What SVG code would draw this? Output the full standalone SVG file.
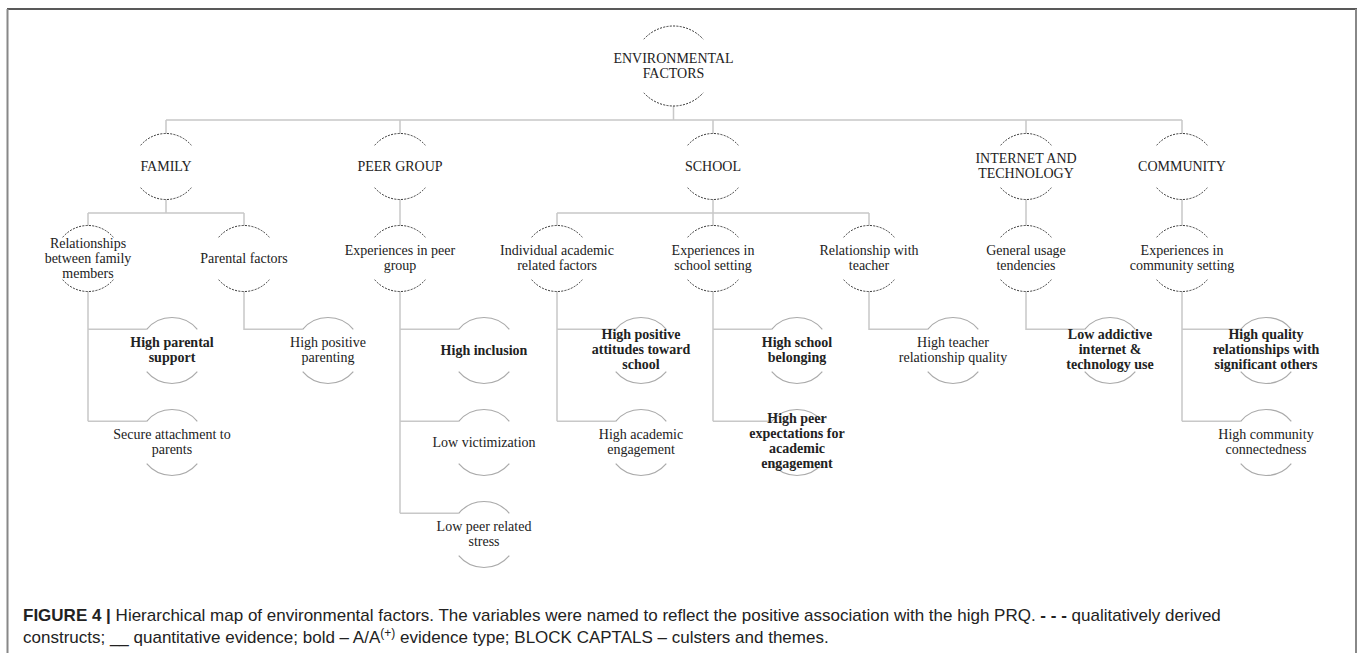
<svg xmlns="http://www.w3.org/2000/svg" xmlns:xlink="http://www.w3.org/1999/xlink" width="1360" height="653" viewBox="0 0 1360 653">
<style>
.t{font-family:"Liberation Serif","Times New Roman",serif;font-size:14px;fill:#222;text-anchor:middle}
.b{font-weight:bold}
.dash{fill:none;stroke:#333;stroke-width:1;stroke-dasharray:2 1.3}
.solid{fill:none;stroke:#aaa;stroke-width:1.2}
.con{fill:none;stroke:#c8c8c8;stroke-width:1.5}
.cap{font-family:"Liberation Sans",Arial,sans-serif;font-size:17px;fill:#222}
</style>
<defs>
<path id="arcR" d="M-29.7,-26.8 A40,40 0 0 1 29.7,-26.8 M-29.7,26.8 A40,40 0 0 0 29.7,26.8"/>
<path id="arc" d="M-25.3,-21.2 A33,33 0 0 1 25.3,-21.2 M-25.3,21.2 A33,33 0 0 0 25.3,21.2"/>
</defs>
<rect width="1360" height="653" fill="#fff"/>
<g id="frame">
<line x1="7" y1="9" x2="1357" y2="9" stroke="#222" stroke-width="1.5"/>
<line x1="7.5" y1="9" x2="7.5" y2="653" stroke="#888" stroke-width="2"/>
<line x1="1356" y1="9" x2="1356" y2="653" stroke="#888" stroke-width="2"/>
</g>
<g id="connectors" class="con">
<path d="M673.5,106 V120 M166,120 H1182 M166,120 V133.5 M400,120 V133.5 M713,120 V133.5 M1026,120 V133.5 M1182,120 V133.5"/>
<path d="M166,199.5 V213 M88,213 H244 M88,213 V225.5 M244,213 V225.5"/>
<path d="M400,199.5 V225.5"/>
<path d="M713,199.5 V225.5 M557,213 H869 M557,213 V225.5 M869,213 V225.5"/>
<path d="M1026,199.5 V225.5 M1182,199.5 V225.5"/>
<path d="M88,291.5 V421.3 M88,329.3 H146.7 M88,421.3 H146.7"/>
<path d="M244,291.5 V329.3 H302.7"/>
<path d="M400,291.5 V513.3 M400,329.3 H458.7 M400,421.3 H458.7 M400,513.3 H458.7"/>
<path d="M557,291.5 V421.3 M557,329.3 H615.7 M557,421.3 H615.7"/>
<path d="M713,291.5 V421.3 M713,329.3 H771.7 M713,421.3 H771.7"/>
<path d="M869,291.5 V329.3 H927.7"/>
<path d="M1026,291.5 V329.3 H1084.7"/>
<path d="M1182,291.5 V421.3 M1182,329.3 H1240.7 M1182,421.3 H1240.7"/>
</g>
<g id="root"><use href="#arcR" x="673.5" y="66" class="dash"/><text class="t" x="673.5" y="63">ENVIRONMENTAL</text><text class="t" x="673.5" y="78">FACTORS</text></g>
<g id="family"><use href="#arc" x="166" y="166.5" class="dash"/><text class="t" x="166" y="171">FAMILY</text></g>
<g id="peer-group"><use href="#arc" x="400" y="166.5" class="dash"/><text class="t" x="400" y="171">PEER GROUP</text></g>
<g id="school"><use href="#arc" x="713" y="166.5" class="dash"/><text class="t" x="713" y="171">SCHOOL</text></g>
<g id="internet"><use href="#arc" x="1026" y="166.5" class="dash"/><text class="t" x="1026" y="163">INTERNET AND</text><text class="t" x="1026" y="178">TECHNOLOGY</text></g>
<g id="community"><use href="#arc" x="1182" y="166.5" class="dash"/><text class="t" x="1182" y="171">COMMUNITY</text></g>
<g id="relationships-family"><use href="#arc" x="88" y="258.5" class="dash"/><text class="t" x="88" y="248">Relationships</text><text class="t" x="88" y="263">between family</text><text class="t" x="88" y="278">members</text></g>
<g id="parental-factors"><use href="#arc" x="244" y="258.5" class="dash"/><text class="t" x="244" y="263">Parental factors</text></g>
<g id="experiences-peer"><use href="#arc" x="400" y="258.5" class="dash"/><text class="t" x="400" y="255">Experiences in peer</text><text class="t" x="400" y="270">group</text></g>
<g id="individual-academic"><use href="#arc" x="557" y="258.5" class="dash"/><text class="t" x="557" y="255">Individual academic</text><text class="t" x="557" y="270">related factors</text></g>
<g id="experiences-school"><use href="#arc" x="713" y="258.5" class="dash"/><text class="t" x="713" y="255">Experiences in</text><text class="t" x="713" y="270">school setting</text></g>
<g id="relationship-teacher"><use href="#arc" x="869" y="258.5" class="dash"/><text class="t" x="869" y="255">Relationship with</text><text class="t" x="869" y="270">teacher</text></g>
<g id="general-usage"><use href="#arc" x="1026" y="258.5" class="dash"/><text class="t" x="1026" y="255">General usage</text><text class="t" x="1026" y="270">tendencies</text></g>
<g id="experiences-community"><use href="#arc" x="1182" y="258.5" class="dash"/><text class="t" x="1182" y="255">Experiences in</text><text class="t" x="1182" y="270">community setting</text></g>
<g id="high-parental-support"><use href="#arc" x="172" y="350.5" class="solid"/><text class="t b" x="172" y="347">High parental</text><text class="t b" x="172" y="362">support</text></g>
<g id="secure-attachment"><use href="#arc" x="172" y="442.5" class="solid"/><text class="t" x="172" y="439">Secure attachment to</text><text class="t" x="172" y="454">parents</text></g>
<g id="high-positive-parenting"><use href="#arc" x="328" y="350.5" class="solid"/><text class="t" x="328" y="347">High positive</text><text class="t" x="328" y="362">parenting</text></g>
<g id="high-inclusion"><use href="#arc" x="484" y="350.5" class="solid"/><text class="t b" x="484" y="354.5">High inclusion</text></g>
<g id="low-victimization"><use href="#arc" x="484" y="442.5" class="solid"/><text class="t" x="484" y="446.5">Low victimization</text></g>
<g id="low-peer-stress"><use href="#arc" x="484" y="534.5" class="solid"/><text class="t" x="484" y="531">Low peer related</text><text class="t" x="484" y="546">stress</text></g>
<g id="high-positive-attitudes"><use href="#arc" x="641" y="350.5" class="solid"/><text class="t b" x="641" y="339">High positive</text><text class="t b" x="641" y="354">attitudes toward</text><text class="t b" x="641" y="369">school</text></g>
<g id="high-academic-engagement"><use href="#arc" x="641" y="442.5" class="solid"/><text class="t" x="641" y="439">High academic</text><text class="t" x="641" y="454">engagement</text></g>
<g id="high-school-belonging"><use href="#arc" x="797" y="350.5" class="solid"/><text class="t b" x="797" y="347">High school</text><text class="t b" x="797" y="362">belonging</text></g>
<g id="high-peer-expectations"><use href="#arc" x="797" y="442.5" class="solid"/><text class="t b" x="797" y="423">High peer</text><text class="t b" x="797" y="438">expectations for</text><text class="t b" x="797" y="453">academic</text><text class="t b" x="797" y="468">engagement</text></g>
<g id="high-teacher-relationship"><use href="#arc" x="953" y="350.5" class="solid"/><text class="t" x="953" y="347">High teacher</text><text class="t" x="953" y="362">relationship quality</text></g>
<g id="low-addictive-use"><use href="#arc" x="1110" y="350.5" class="solid"/><text class="t b" x="1110" y="339">Low addictive</text><text class="t b" x="1110" y="354">internet &amp;</text><text class="t b" x="1110" y="369">technology use</text></g>
<g id="high-quality-relationships"><use href="#arc" x="1266" y="350.5" class="solid"/><text class="t b" x="1266" y="339">High quality</text><text class="t b" x="1266" y="354">relationships with</text><text class="t b" x="1266" y="369">significant others</text></g>
<g id="high-community-connectedness"><use href="#arc" x="1266" y="442.5" class="solid"/><text class="t" x="1266" y="439">High community</text><text class="t" x="1266" y="454">connectedness</text></g>
<g id="caption">
<text class="cap" x="23" y="621"><tspan font-weight="bold">FIGURE 4 |</tspan> Hierarchical map of environmental factors. The variables were named to reflect the positive association with the high PRQ. <tspan font-weight="bold">- - -</tspan> qualitatively derived</text>
<text class="cap" x="23" y="643">constructs; __ quantitative evidence; bold – A/A<tspan font-size="12" dy="-6">(+)</tspan><tspan dy="6"> evidence type; BLOCK CAPTALS – culsters and themes.</tspan></text>
</g>
</svg>
